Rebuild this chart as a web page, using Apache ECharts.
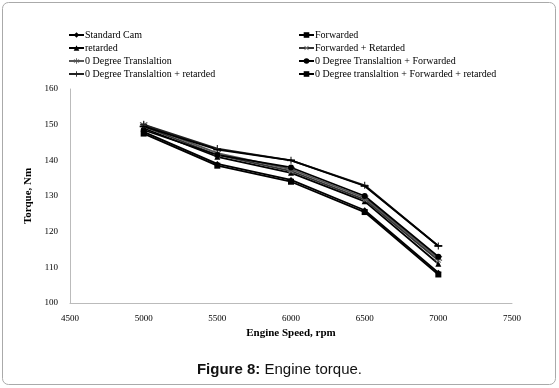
<!DOCTYPE html>
<html>
<head>
<meta charset="utf-8">
<script src="https://cdn.jsdelivr.net/npm/echarts@6/dist/echarts.min.js"></script>
<style>
  html, body { margin: 0; padding: 0; background: #fff; }
  #chart { width: 559px; height: 388px; }
</style>
</head>
<body>
<div id="chart"></div>
<script>
// engine speed, rpm
const speeds = [5000, 5500, 6000, 6500, 7000]

// torque, Nm
const standardCam = [148, 139, 134.5, 126, 108.5]
const forwarded = [147.5, 138.5, 134, 125.5, 108]
const retarded = [149, 141, 136.5, 128.5, 111]
const forwardedRetarded = [149.5, 141.5, 137, 129, 112]
const zeroDeg = [150, 142, 137.5, 129.5, 112.5]
const zeroDegForwarded = [148.5, 141.5, 138, 130, 113]
const zeroDegRetarded = [150, 143.3, 140, 133, 116]
const zeroDegFwdRet = [149.5, 143, 140, 132.8, 116]

const xTicks = [4500, 7500, 500]
const yTicks = [100, 160, 10]

const serif = "'Times New Roman', 'Liberation Serif', serif"

// marker shapes
const plusPath = 'path://M4.2,0H5.8V4.2H10V5.8H5.8V10H4.2V5.8H0V4.2H4.2Z'
const starPath = 'path://M4.3,0H5.7V3.6L8.8,1.8L9.5,3L6.4,5L9.5,7L8.8,8.2L5.7,6.4V10H4.3V6.4L1.2,8.2L0.5,7L3.6,5L0.5,3L1.2,1.8L4.3,3.6Z'

const seriesDefs = [
  { name: 'Standard Cam', data: standardCam, symbol: 'diamond', size: 6, color: '#000' },
  { name: 'Forwarded', data: forwarded, symbol: 'rect', size: 6, color: '#000' },
  { name: 'retarded', data: retarded, symbol: 'triangle', size: 6, color: '#000' },
  { name: 'Forwarded + Retarded', data: forwardedRetarded, symbol: plusPath, size: 7, rotate: 45, color: '#777' },
  { name: '0 Degree Translaltion', data: zeroDeg, symbol: starPath, size: 8, color: '#555' },
  { name: '0 Degree Translaltion + Forwarded', data: zeroDegForwarded, symbol: 'circle', size: 6, color: '#000' },
  { name: '0 Degree Translaltion + retarded', data: zeroDegRetarded, symbol: plusPath, size: 7, color: '#222' },
  { name: '0 Degree translaltion + Forwarded + retarded', data: zeroDegFwdRet, symbol: 'rect', size: [8, 1.6], color: '#000' }
]

const chart = echarts.init(document.getElementById('chart'))

const legendBase = {
  orient: 'vertical',
  top: 25,
  itemGap: 3,
  itemWidth: 15,
  itemHeight: 7,
  textStyle: { fontFamily: serif, fontSize: 10, color: '#000', padding: [0, 0, 0, -4] }
}

chart.setOption({
  animation: false,
  graphic: [
    {
      type: 'rect',
      shape: { x: 2.5, y: 2.5, width: 553, height: 382, r: 6 },
      style: { fill: 'none', stroke: '#aaa', lineWidth: 1 }
    }
  ],
  title: {
    text: '{b|Figure 8:} Engine torque.',
    left: 'center',
    top: 357,
    textStyle: {
      fontFamily: 'Arial, Liberation Sans, sans-serif',
      fontSize: 15,
      fontWeight: 'normal',
      color: '#111',
      rich: {
        b: { fontFamily: 'Arial, Liberation Sans, sans-serif', fontSize: 15, fontWeight: 'bold', color: '#111' }
      }
    }
  },
  legend: [
    Object.assign({}, legendBase, { left: 63, data: seriesDefs.filter((s, i) => i % 2 === 0).map(s => s.name) }),
    Object.assign({}, legendBase, { left: 293, data: seriesDefs.filter((s, i) => i % 2 === 1).map(s => s.name) })
  ],
  grid: { left: 70, right: 47, top: 89, bottom: 85 },
  xAxis: {
    type: 'value',
    min: xTicks[0],
    max: xTicks[1],
    interval: xTicks[2],
    name: 'Engine Speed, rpm',
    nameLocation: 'middle',
    nameGap: 24,
    nameTextStyle: { fontFamily: serif, fontSize: 11, fontWeight: 'bold', color: '#000' },
    axisLine: { lineStyle: { color: '#bbb', width: 1 } },
    axisTick: { show: false },
    splitLine: { show: false },
    axisLabel: { fontFamily: serif, fontSize: 9, color: '#000', margin: 11, formatter: v => String(v) }
  },
  yAxis: {
    type: 'value',
    min: yTicks[0],
    max: yTicks[1],
    interval: yTicks[2],
    name: 'Torque, Nm',
    nameLocation: 'middle',
    nameGap: 23,
    nameTextStyle: { fontFamily: serif, fontSize: 11, fontWeight: 'bold', color: '#000' },
    axisLine: { show: true, lineStyle: { color: '#bbb', width: 1 } },
    axisTick: { show: false },
    splitLine: { show: false },
    axisLabel: { fontFamily: serif, fontSize: 9, color: '#000', margin: 12 }
  },
  series: seriesDefs.map(s => ({
    name: s.name,
    type: 'line',
    data: speeds.map((x, i) => [x, s.data[i]]),
    symbol: s.symbol,
    symbolSize: s.size,
    symbolRotate: s.rotate || 0,
    showAllSymbol: true,
    lineStyle: { color: s.color === '#777' ? '#333' : s.color, width: 1.8 },
    itemStyle: { color: s.color },
    emphasis: { disabled: true }
  }))
})
</script>
</body>
</html>
